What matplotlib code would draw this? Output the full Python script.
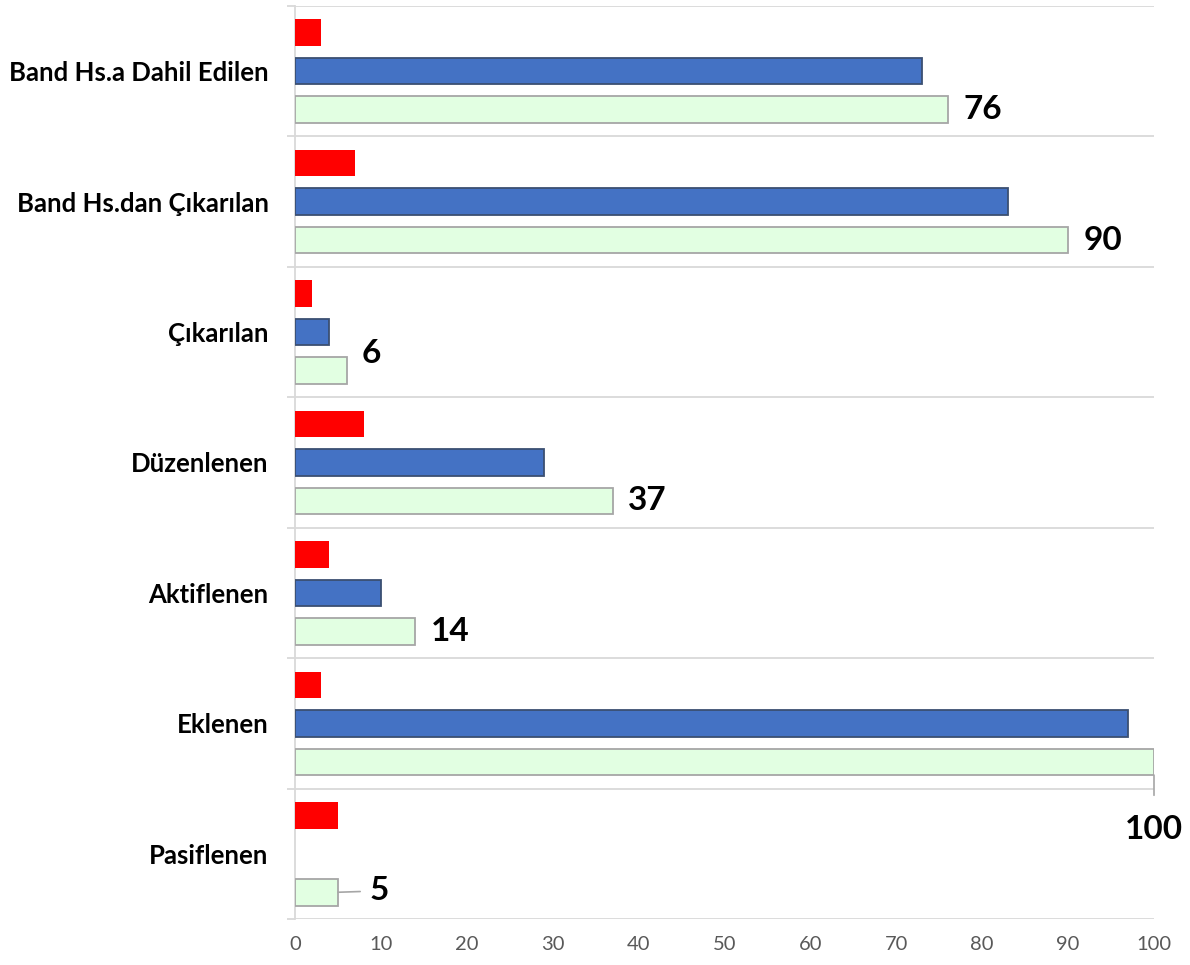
import matplotlib
matplotlib.use("Agg")
import matplotlib.pyplot as plt
import numpy as np

categories = ["Band Hs.a Dahil Edilen", "Band Hs.dan Çıkarılan", "Çıkarılan",
              "Düzenlenen", "Aktiflenen", "Eklenen", "Pasiflenen"]
red_vals = [3, 7, 2, 8, 4, 3, 5]
blue_vals = [73, 83, 4, 29, 10, 97, 0]
green_vals = [76, 90, 6, 37, 14, 100, 5]
xticks = [0, 10, 20, 30, 40, 50, 60, 70, 80, 90, 100]

plt.rcParams['font.family'] = ['Lato', 'DejaVu Sans']

fig = plt.figure(figsize=(11.9, 9.65), dpi=100)
ax = fig.add_axes([295/1190, 1 - 919/965, (1154-295)/1190, (919-6)/965])

n = len(categories)
y = np.arange(n)
h = 0.203
off = 0.295

ax.barh(y - off, red_vals, height=h, color='#FF0000', edgecolor='none', zorder=3)
blue_edges = ['#3B4F72' if v > 0 else 'none' for v in blue_vals]
ax.barh(y, blue_vals, height=h, color='#4472C4', edgecolor=blue_edges, linewidth=1.3, zorder=3)
ax.barh(y + off, green_vals, height=h, color='#E2FFE2', edgecolor='#A6A6A6', linewidth=1.3, zorder=3)

ax.set_xlim(0, 100)
ax.set_ylim(n - 0.5, -0.5)

# boundaries / gridlines
ax.set_yticks(np.arange(-0.5, n, 1.0))
ax.set_yticklabels([])
ax.tick_params(axis='y', which='major', length=6, color='#D9D9D9', width=1.3)
ax.set_yticks(y, minor=True)
ax.set_yticklabels(categories, minor=True, fontsize=18.5, fontweight='bold', color='#000000')
ax.tick_params(axis='y', which='minor', length=0, pad=19)
ax.grid(axis='y', which='major', color='#D9D9D9', linewidth=1.3, zorder=0)

ax.set_xticks(xticks)
ax.set_xticklabels([str(t) for t in xticks], fontsize=14.5, color='#595959')
ax.tick_params(axis='x', length=0, pad=12)

for s in ['top', 'right', 'bottom']:
    ax.spines[s].set_visible(False)
ax.spines['left'].set_color('#D9D9D9')
ax.spines['left'].set_linewidth(1.3)

# value labels on green bars
for i, v in enumerate(green_vals):
    yy = i + off
    if v == max(green_vals):
        ax.annotate(str(v), xy=(v, yy + h/2), xytext=(0, -39), textcoords='offset points',
                    ha='center', va='center', fontsize=24, fontweight='bold',
                    arrowprops=dict(arrowstyle='-', color='#A6A6A6', lw=1.2, shrinkA=12, shrinkB=0),
                    annotation_clip=False, zorder=5)
    elif v == min(green_vals):
        ax.annotate(str(v), xy=(v, yy), xytext=(23, 1), textcoords='offset points',
                    ha='left', va='center', fontsize=24, fontweight='bold',
                    arrowprops=dict(arrowstyle='-', color='#A6A6A6', lw=1.2, shrinkA=5, shrinkB=0),
                    zorder=5)
    else:
        dy = 12 if v < 10 else 0
        ax.annotate(str(v), xy=(v, yy), xytext=(11, dy), textcoords='offset points',
                    ha='left', va='center', fontsize=24, fontweight='bold', zorder=5)

fig.savefig('out.png', dpi=100)
